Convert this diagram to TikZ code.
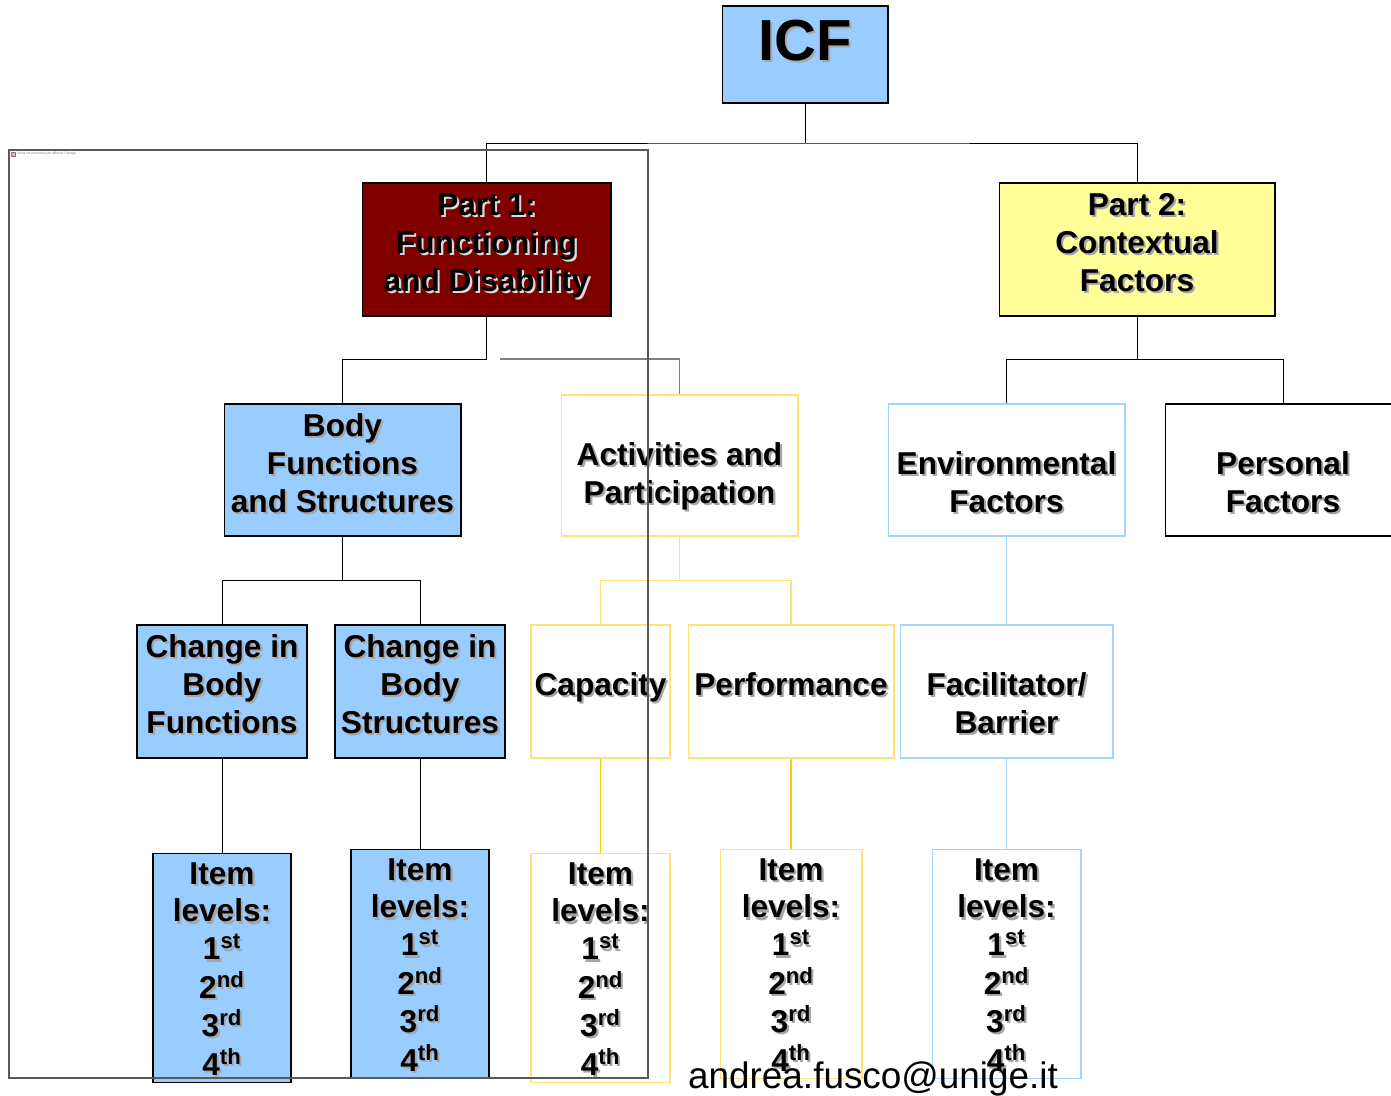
\documentclass[tikz,border=0pt]{standalone}
\usepackage{fontspec}
\setmainfont{Liberation Sans}
\usepackage{xcolor}
\tikzset{>=latex}
\definecolor{icfblue}{HTML}{99CCFF}
\definecolor{icfred}{HTML}{800000}
\definecolor{icfyellow}{HTML}{FFFF99}
\definecolor{lineyellow}{HTML}{FFE37A}
\definecolor{darkyellow}{HTML}{FFCC00}
\definecolor{lineblue}{HTML}{A6D2FF}
\newcommand\shd[1]{\leavevmode\rlap{\hspace{1.2pt}\raisebox{-1.2pt}{\textcolor{black!35}{#1}}}#1}
\newcommand\shdw[1]{\leavevmode\rlap{\hspace{1.2pt}\raisebox{-1.2pt}{\textcolor{white!85!black}{#1}}}#1}
% text block moved up or down inside its box
\newcommand\lift[2]{\raisebox{#1}[\height][\depth]{\begin{tabular}{@{}c@{}}#2\end{tabular}}}
\tikzset{
  box/.style={draw, inner sep=0pt, align=center, line width=0.6pt,
    font=\bfseries\fontsize{18}{21.6}\selectfont},
  bluebox/.style={box, fill=icfblue},
  redbox/.style={box, fill=icfred},
  yelbox/.style={box, fill=icfyellow},
  whitebox/.style={box, fill=white},
  ybox/.style={box, draw=lineyellow, fill=white},
  lbbox/.style={box, draw=lineblue, fill=white},
  yelline/.style={draw=lineyellow, line width=0.8pt},
  dyelline/.style={draw=darkyellow, line width=1pt},
  blueline/.style={draw=lineblue, line width=1pt},
  greyline/.style={draw=gray, line width=0.8pt},
  panel/.style={draw=black!65, line width=0.6pt}
}
\newcommand\levels{\lift{-2.3pt}{\shd{Item}\\\shd{levels:}\\\shd{1\textsuperscript{st}}\\\shd{2\textsuperscript{nd}}\\\shd{3\textsuperscript{rd}}\\\shd{4\textsuperscript{th}}}}

\begin{document}
\begin{tikzpicture}[x=0.02cm, y=-0.02cm]
  \useasboundingbox (0,0) rectangle (1391,1095);
  % top
  \node[bluebox, minimum width=3.32cm, minimum height=1.94cm,
    font=\bfseries\fontsize{33}{38}\selectfont] (icf) at (805,54.5) {\raisebox{0.56cm}{\shd{ICF}}};
  \node[redbox, minimum width=4.98cm, minimum height=2.66cm] (p1) at (486.5,249.5)
    {\lift{2pt}{\shdw{Part 1:}\\\shdw{Functioning}\\\shdw{and Disability}}};
  \node[yelbox, minimum width=5.52cm, minimum height=2.66cm] (p2) at (1137,249.5)
    {\lift{2pt}{\shd{Part 2:}\\\shd{Contextual}\\\shd{Factors}}};
  % second row
  \node[bluebox, minimum width=4.74cm, minimum height=2.64cm] (body) at (342.5,470)
    {\lift{2pt}{\shd{Body}\\\shd{Functions}\\\shd{and Structures}}};
  \node[ybox, minimum width=4.74cm, minimum height=2.82cm] (act) at (679.5,465.5)
    {\lift{-6.5pt}{\shd{Activities and}\\\shd{Participation}}};
  \node[lbbox, minimum width=4.74cm, minimum height=2.64cm] (env) at (1006.5,470)
    {\lift{-9pt}{\shd{Environmental}\\\shd{Factors}}};
  \node[whitebox, minimum width=4.72cm, minimum height=2.64cm] (pers) at (1283,470)
    {\lift{-9pt}{\shd{Personal}\\\shd{Factors}}};
  % third row
  \node[bluebox, minimum width=3.4cm, minimum height=2.66cm] (cbf) at (222,691.5)
    {\lift{2pt}{\shd{Change in}\\\shd{Body}\\\shd{Functions}}};
  \node[bluebox, minimum width=3.4cm, minimum height=2.66cm] (cbs) at (420,691.5)
    {\lift{2pt}{\shd{Change in}\\\shd{Body}\\\shd{Structures}}};
  \node[ybox, minimum width=2.78cm, minimum height=2.66cm] (cap) at (600.5,691.5)
    {\lift{2pt}{\shd{Capacity}}};
  \node[ybox, minimum width=4.12cm, minimum height=2.66cm] (perf) at (791,691.5)
    {\lift{2pt}{\shd{Performance}}};
  \node[lbbox, minimum width=4.26cm, minimum height=2.66cm] (fac) at (1006.5,691.5)
    {\lift{-8.8pt}{\shd{Facilitator/}\\\shd{Barrier}}};
  % item levels
  \node[bluebox, minimum width=2.76cm, minimum height=4.56cm] (lv1) at (222,968) {\levels};
  \node[bluebox, minimum width=2.76cm, minimum height=4.56cm] (lv2) at (420,964) {\levels};
  \node[ybox, minimum width=2.78cm, minimum height=4.56cm] (lv3) at (600.5,968) {\levels};
  \node[ybox, minimum width=2.84cm, minimum height=4.56cm] (lv4) at (791,964) {\levels};
  \node[lbbox, minimum width=2.98cm, minimum height=4.56cm] (lv5) at (1006.5,964) {\levels};
  % connectors
  \coordinate (j0) at (805,143);
  \draw (icf) -- (j0);
  \draw (p1.north) |- (j0) -| (p2.north);
  \draw (p1.south) -- ++(0,43) -| (body.north);
  \coordinate (g0) at (500,359);
  \draw[greyline] (g0) -| (act.north);
  \draw (p2.south) -- ++(0,43) coordinate (j2);
  \draw (env.north) |- (j2) -| (pers.north);
  \draw (body.south) -- ++(0,44) coordinate (j3);
  \draw (cbf.north) |- (j3) -| (cbs.north);
  \draw[yelline] (act.south) -- ++(0,44) coordinate (j4);
  \draw[yelline] (cap.north) |- (j4) -| (perf.north);
  \draw[blueline] (env) -- (fac);
  \draw (cbf) -- (lv1);
  \draw (cbs) -- (lv2);
  \draw[dyelline] (cap) -- (lv3);
  \draw[dyelline] (perf) -- (lv4);
  \draw[blueline] (fac) -- (lv5);
  % frame of the missing picture
  \draw[panel] (9,150) rectangle (648,1078);
  \draw[draw=gray, fill=red!35, line width=0.2pt] (11,152) rectangle (15,156);
  \node[anchor=west, inner sep=0pt, text=gray, font=\fontsize{2}{2}\selectfont] (noimg) at (17,154)
    {Nous ne pouvons pas afficher l'image.};
  \node[anchor=base, inner sep=0pt, font=\fontsize{21}{25}\selectfont] (mail) at (873,1088)
    {andrea.fusco@unige.it};
\end{tikzpicture}
\end{document}
